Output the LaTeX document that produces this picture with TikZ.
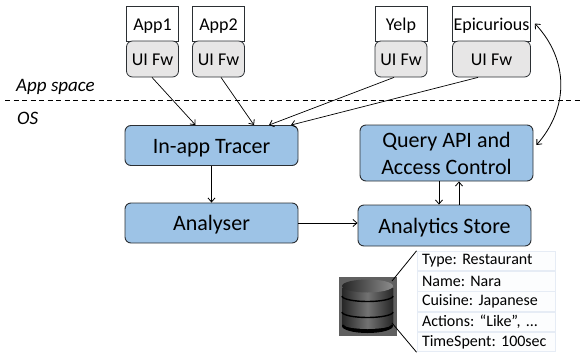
\documentclass[tikz,border=0pt]{standalone}
\usepackage{fontspec}
\setmainfont{Carlito}
\usetikzlibrary{arrows.meta,calc}
\definecolor{boxblue}{HTML}{9DC3E6}
\definecolor{fwgrey}{HTML}{E7E6E6}
\definecolor{edge}{HTML}{2B2F33}
\definecolor{rowa}{HTML}{FCFDFE}
\definecolor{rowline}{HTML}{E6ECF5}
\tikzset{
  x=1pt,y=-1pt,
  arr/.style={draw=black,line width=.7pt,-{Straight Barb[length=4pt,width=7pt,line width=.8pt]}},
  bluebox/.style={draw=edge,line width=.9pt,fill=boxblue,rounded corners=6pt,inner sep=0pt,align=center,font=\fontsize{22}{27}\selectfont},
  oneline/.style={text height=15.5pt,text depth=.5pt},
  appbox/.style={draw=edge,line width=.7pt,fill=white,inner sep=0pt,text height=14.5pt,text depth=.5pt,font=\fontsize{18}{20}\selectfont},
  fwbox/.style={draw=edge,line width=.8pt,fill=fwgrey,rounded corners=6pt,inner sep=0pt,text height=12.5pt,text depth=.5pt,font=\fontsize{18}{20}\selectfont},
  rowbox/.style={draw=rowline,line width=.9pt,fill=rowa,inner sep=0pt,minimum width=138pt,minimum height=19.5pt,text width=128pt,align=left,font=\fontsize{16}{18}\selectfont\frenchspacing},
  spacelabel/.style={inner sep=0pt,anchor=base west,font=\itshape\fontsize{19}{21}\selectfont},
  link/.style={draw=black,line width=.8pt},
}
\begin{document}
\begin{tikzpicture}
\useasboundingbox (0,0) rectangle (581,354);
\node[appbox,minimum width=52pt,minimum height=35pt] (app1) at (152.5,23.5) {App1};
\node[fwbox,minimum width=52pt,minimum height=36pt] (fw1) at (152.5,59) {UI Fw};
\node[appbox,minimum width=52pt,minimum height=35pt] (app2) at (218.5,23.5) {App2};
\node[fwbox,minimum width=52pt,minimum height=36pt] (fw2) at (218.5,59) {UI Fw};
\node[appbox,minimum width=52pt,minimum height=35pt] (yelp) at (401,23.5) {Yelp};
\node[fwbox,minimum width=52pt,minimum height=36pt] (fw3) at (401,59) {UI Fw};
\node[appbox,minimum width=78pt,minimum height=35pt] (epi) at (491.5,23.5) {Epicurious};
\node[fwbox,minimum width=78pt,minimum height=36pt] (fw4) at (491.5,59) {UI Fw};
\coordinate (dl) at (5,100);
\coordinate (dr) at (581,100);
\draw[black,line width=.8pt,dash pattern=on 5pt off 3.5pt] (dl) -- (dr);
\node[spacelabel] (as) at (16,91) {App space};
\node[spacelabel] (os) at (17,124) {OS};
\node[bluebox,oneline,minimum width=173pt,minimum height=40pt] (tracer) at (211.5,145.5) {In-app Tracer};
\node[bluebox,oneline,minimum width=173pt,minimum height=40pt] (analyser) at (211.5,223) {Analyser};
\node[bluebox,minimum width=173pt,minimum height=56pt] (query) at (446.5,153) {Query API and\\Access Control};
\node[bluebox,oneline,minimum width=173pt,minimum height=41pt] (store) at (444.5,225.5) {Analytics Store};
\draw[arr] ([xshift=-.5pt]fw1.south) -- ([xshift=-16pt]tracer.north);
\draw[arr] ([xshift=2.5pt]fw2.south) -- ([xshift=42.5pt]tracer.north);
\draw[arr] ([xshift=-7pt]fw3.south) -- ([xshift=57.5pt]tracer.north);
\draw[arr] ([xshift=-13.5pt]fw4.south) -- ([xshift=79.5pt]tracer.north);
\draw[arr] (tracer.south) -- (analyser.north);
\draw[arr] (analyser.east) -- (analyser.east -| store.west);
\draw[arr] ([xshift=-7.5pt]query.south) -- ([xshift=-5.5pt]store.north);
\draw[arr] ([xshift=14.5pt]store.north) -- ([xshift=12.5pt]query.south);
\coordinate (epiR) at ($(epi.east)+(4,0)$);
\coordinate (qR) at ($(query.east)+(3,-8)$);
\draw[line width=.8pt,{Straight Barb[length=4pt,width=7pt,line width=.8pt]}-{Straight Barb[length=4pt,width=7pt,line width=.8pt]}] (epiR) .. controls (569,60) and (569,108) .. (qR);
% database icon
\fill[gray!75!black] (339,277) rectangle (397,336);
\fill[black] (342,288) -- (342,326) arc[start angle=180,end angle=360,x radius=25.5pt,y radius=7pt] -- (393,288) -- cycle;
\path[left color=black!85,right color=black!85,middle color=black!55] (342,288) -- (342,324) arc[start angle=180,end angle=360,x radius=25.5pt,y radius=5pt] -- (393,288) -- cycle;
\path[left color=black!85,right color=black!45] (342,286) arc[start angle=180,end angle=540,x radius=25.5pt,y radius=6.5pt];
\draw[black,line width=1.4pt] (342,296) arc[start angle=180,end angle=360,x radius=25.5pt,y radius=5.5pt];
\draw[black,line width=1.4pt] (342,312) arc[start angle=180,end angle=360,x radius=25.5pt,y radius=5.5pt];
\draw[black,line width=2pt] (343,325) arc[start angle=180,end angle=360,x radius=24.5pt,y radius=6pt];
% table
\node[rowbox] (r1) at (486,261) {Type: Restaurant};
\node[rowbox] (r2) at (486,281.5) {Name: Nara};
\node[rowbox] (r3) at (486,301.5) {Cuisine: Japanese};
\node[rowbox] (r4) at (486,322) {Actions: “Like”, ...};
\node[rowbox] (r5) at (486,342) {TimeSpent: 100sec};
\coordinate (i1) at (392,281);
\coordinate (i2) at (392,323);
\draw[link] (i1) -- (r1.north west);
\draw[link] (i2) -- (r5.south west);
\end{tikzpicture}
\end{document}
